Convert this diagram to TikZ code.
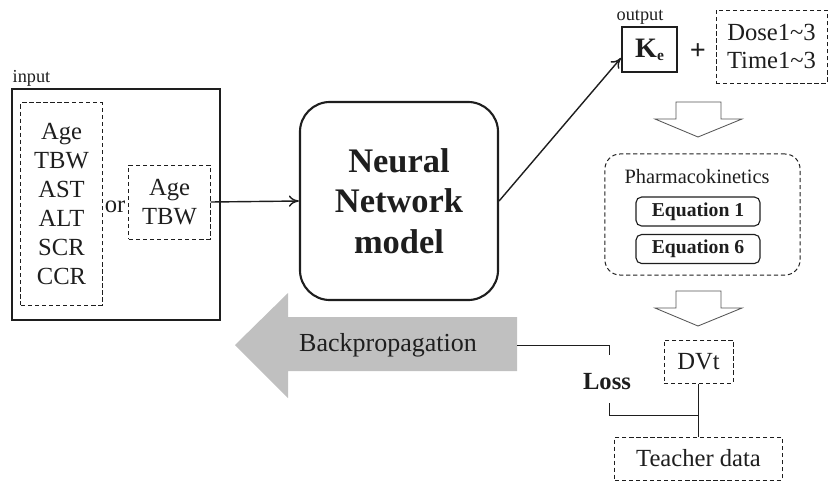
\documentclass[tikz,border=0pt]{standalone}
\usepackage{fontspec}
\setmainfont{Liberation Serif}
\usetikzlibrary{arrows.meta,positioning}
\definecolor{ink}{RGB}{30,30,30}
\definecolor{bpgray}{RGB}{192,192,192}
\tikzset{
  solidbox/.style={draw=ink,line width=1.4pt,inner sep=0pt},
  dashbox/.style={draw=ink,line width=0.7pt,dash pattern=on 3pt off 2pt,inner sep=0pt,align=center},
  txt/.style={font=\fontsize{17.5}{20.5}\selectfont,text=ink,align=center},
  smalltxt/.style={font=\fontsize{13}{14}\selectfont,text=ink,inner sep=1pt},
  eqbox/.style={draw=ink,line width=0.8pt,rounded corners=4pt,minimum width=3.1cm,minimum height=0.725cm,inner sep=0pt,font=\fontsize{14}{15}\selectfont\bfseries,text=ink},
  conn/.style={draw=ink,line width=0.7pt},
  arrow/.style={draw=ink,line width=1pt,-{To[length=2.5mm,width=2.8mm]}},
  hollow/.style={draw=ink!75,line width=0.6pt,fill=white,line join=miter},
  downblock/.pic={
    \draw[hollow] (-22,0) -- (23,0) -- (23,17) -- (44,17) -- (0,35) -- (-43,17) -- (-22,17) -- cycle;
  }
}

\begin{document}
\begin{tikzpicture}[x=0.025cm,y=-0.025cm]
  \useasboundingbox (0,0) rectangle (829,482);

  % input side
  \node[solidbox,minimum width=5.2cm,minimum height=5.775cm] (inbox) at (116,204.5) {};
  \node[smalltxt,anchor=south west] (inlab) at (inbox.north west) {input};
  \node[dashbox,txt,minimum width=2.025cm,minimum height=5.05cm] (feat6) at (61.5,204) {Age\\TBW\\AST\\ALT\\SCR\\CCR};
  \node[txt] (or) at (115,207) {or};
  \node[dashbox,txt,minimum width=2.025cm,minimum height=1.85cm] (feat2) at (169.5,202) {Age\\TBW};

  % network
  \node[solidbox,line width=1.5pt,rounded corners=0.75cm,minimum size=4.95cm,align=center,
        font=\fontsize{24.5}{29}\selectfont\bfseries,text=ink] (nn) at (399,201) {Neural\\Network\\model};
  \draw[arrow] (feat2.east) -- (nn.west);

  % output
  \node[solidbox,minimum width=1.375cm,minimum height=1.125cm,text=ink] (ke) at (649.5,49.5)
    {\fontsize{20}{20}\selectfont\bfseries K\raisebox{-2pt}{\fontsize{11}{11}\selectfont e}};
  \node[smalltxt,anchor=south] (outlab) at (640,26) {output};
  \node[txt,font=\fontsize{20}{20}\selectfont\bfseries] (plus) at (698,52) {+};
  \node[dashbox,txt,minimum width=2.775cm,minimum height=1.825cm] (dose) at (771.5,46.5) {Dose1\textasciitilde 3\\Time1\textasciitilde 3};
  \draw[arrow] (nn.east) -- ([yshift=-6pt]ke.west);

  \pic at (698,102) {downblock};

  % pharmacokinetics
  \node[dashbox,rounded corners=0.375cm,minimum width=4.875cm,minimum height=3.025cm] (pk) at (702.5,214.5) {};
  \node[txt,font=\fontsize{14.5}{16}\selectfont] (pklab) at (697,177) {Pharmacokinetics};
  \node[eqbox] (eq1) at (698,211.5) {Equation 1};
  \node[eqbox] (eq6) at (698,249) {Equation 6};

  \pic at (698,291) {downblock};

  % loss
  \node[dashbox,txt,minimum width=1.725cm,minimum height=1.075cm] (dvt) at (698.5,361.5) {DVt};
  \node[dashbox,txt,minimum width=4.175cm,minimum height=1.075cm] (teacher) at (698.5,458.5) {Teacher data};
  \draw[conn] (dvt.south) -- (teacher.north);

  \fill[bpgray] (517,317) -- (288,317) -- (288,293) -- (235,345) -- (288,398) -- (288,371) -- (517,371) -- cycle;
  \node[txt,font=\fontsize{18.5}{20}\selectfont] (bp) at (388,345) {Backpropagation};
  \coordinate (bpend) at (517,345);

  \node[txt,font=\fontsize{17.5}{20}\selectfont\bfseries] (loss) at (607,382) {Loss};
  \coordinate (losstop) at (609,355);
  \coordinate (lossbot) at (609,403);
  \coordinate (lossjoin) at (698.5,415);
  \draw[conn] (bpend) -| (losstop);
  \draw[conn] (lossbot) |- (lossjoin);
\end{tikzpicture}
\end{document}
